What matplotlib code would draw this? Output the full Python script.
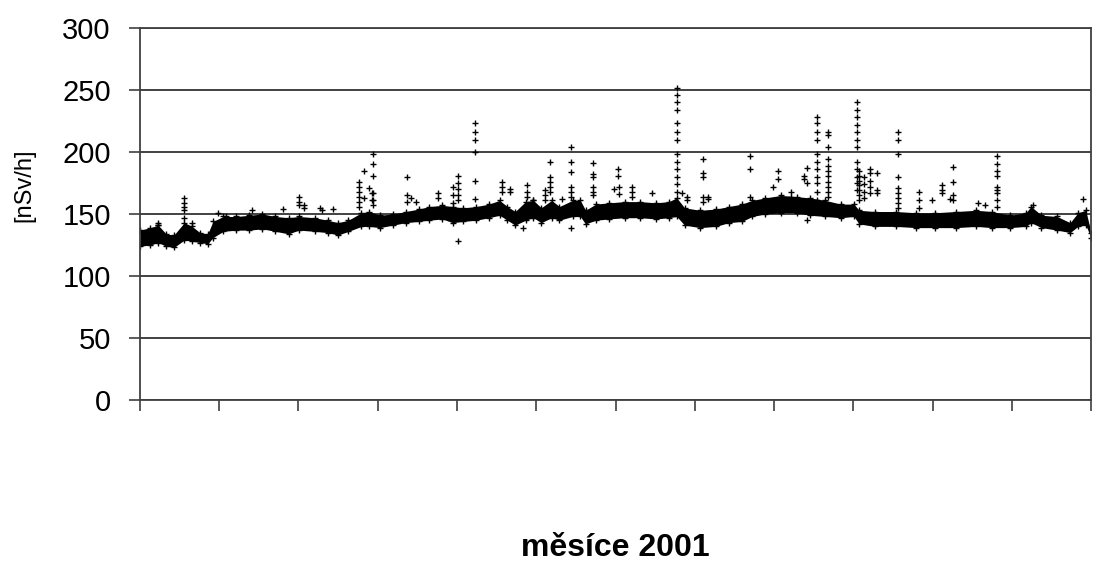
import matplotlib
matplotlib.use("Agg")
import matplotlib.pyplot as plt

plt.rcParams['font.family'] = ['Liberation Sans', 'DejaVu Sans']

# dense band of hourly values: day of year, lower and upper edge [nSv/h]
band_day = [0, 4, 7, 10, 13, 17, 20, 23, 26, 28, 32, 37, 42, 47, 52, 57, 61, 67,
            72, 76, 80, 85, 88, 92, 97, 102, 107, 111, 116, 120, 124, 129, 134,
            138, 141, 144, 148, 151, 154, 158, 161, 166, 169, 171, 175, 180, 186,
            192, 198, 203, 206, 209, 215, 221, 226, 231, 235, 240, 246, 252, 257,
            263, 269, 274, 276, 282, 290, 298, 305, 313, 321, 327, 334, 340, 342,
            346, 352, 357, 360, 363, 365]
band_low = [124, 125, 127, 124, 123, 129, 128, 127, 126, 131, 136, 137, 137, 138,
            136, 134, 137, 136, 135, 133, 136, 140, 140, 139, 141, 143, 144, 145,
            146, 143, 144, 145, 147, 149, 145, 141, 145, 147, 143, 147, 145, 148,
            148, 142, 145, 146, 147, 147, 146, 147, 148, 141, 139, 140, 143, 144,
            148, 150, 151, 151, 149, 148, 147, 148, 142, 140, 140, 139, 139, 139,
            140, 139, 139, 140, 143, 139, 137, 135, 140, 141, 131]
band_high = [137, 139, 141, 134, 133, 143, 140, 135, 134, 144, 148, 148, 149, 150,
             148, 147, 148, 147, 145, 143, 145, 151, 152, 149, 150, 152, 154, 156,
             157, 156, 155, 156, 158, 161, 156, 152, 160, 161, 155, 161, 156, 161,
             161, 153, 158, 159, 160, 160, 159, 160, 163, 155, 153, 154, 156, 158,
             161, 163, 165, 164, 163, 161, 158, 158, 153, 152, 152, 151, 151, 152,
             153, 152, 149, 151, 156, 149, 148, 143, 151, 153, 135]

# isolated readings outside the band
spike_day = ([7, 7] + [17] * 5 + [20, 30, 33, 43, 55] + [61] * 3 + [63] * 2
             + [69, 70, 74] + [84] * 6 + [86] * 2 + [88] + [89] * 2 + [89.5] * 6
             + [102.5] * 3 + [104, 106] + [114.5] * 2 + [120] * 3 + [122] * 6
             + [128.5] * 6 + [139] * 3 + [142] * 2 + [147] + [148.7] * 3 + [151]
             + [155.6] * 3 + [157.5] * 5 + [162] + [165.5] * 7 + [174] * 6
             + [182] + [183.6] * 2 + [184] * 2 + [189] * 3 + [196.7] + [206] * 13
             + [208] + [210] * 2 + [216] * 5 + [218] * 2 + [234] * 3 + [243]
             + [245] * 2 + [250] * 2 + [255] * 2 + [256] * 3 + [259.7] * 11
             + [264] * 11 + [275] * 12 + [276] * 7 + [278] * 4 + [280] * 5
             + [283] * 3 + [291] * 9 + [299] * 3 + [304] + [308] * 3 + [311]
             + [312] * 4 + [321.6, 324.5] + [329] * 9 + [342.7, 362])
spike_val = ([141, 143] + [163, 159, 156, 153, 147] + [143, 151, 148, 153, 154]
             + [164, 160, 157] + [157, 155] + [155, 153, 154]
             + [176, 172, 168, 164, 160, 156] + [185, 163] + [171] + [167, 161]
             + [198, 190, 181, 167, 161, 157] + [180, 165, 160] + [163, 160]
             + [167, 163] + [172, 165, 159] + [181, 175, 170, 165, 161, 128]
             + [223, 216, 210, 200, 177, 162] + [176, 172, 168] + [170, 168]
             + [139] + [173, 168, 164] + [161] + [169, 165, 161]
             + [192, 180, 176, 172, 168] + [162]
             + [204, 192, 184, 172, 168, 164, 139] + [191, 182, 180, 172, 168, 165]
             + [170] + [186, 181] + [172, 166] + [172, 168, 164] + [167]
             + [252, 246, 240, 234, 223, 216, 210, 198, 192, 186, 180, 174, 168]
             + [167] + [164, 161] + [194, 183, 180, 164, 160] + [164, 162]
             + [197, 186, 164] + [172] + [185, 178] + [168, 164] + [181, 178]
             + [187, 175, 145]
             + [228, 223, 216, 210, 198, 192, 186, 180, 175, 168, 161]
             + [216, 214, 204, 194, 189, 185, 181, 176, 172, 168, 164]
             + [240, 234, 228, 222, 216, 210, 204, 192, 186, 180, 175, 169]
             + [185, 181, 177, 173, 169, 165, 161] + [180, 174, 168, 163]
             + [186, 183, 177, 172, 167] + [183, 169, 167]
             + [216, 210, 198, 180, 171, 167, 163, 159, 155] + [168, 161, 155]
             + [161] + [173, 169, 167] + [162] + [188, 176, 165, 161] + [159, 157]
             + [197, 190, 185, 181, 172, 169, 167, 161, 156] + [157, 162])

month_ticks = [0, 30.4, 60.8, 91.25, 121.7, 152.1, 182.5, 212.9, 243.3, 273.75,
               304.2, 334.6, 365]

fig = plt.figure(figsize=(10.94, 5.63), dpi=100)
ax = fig.add_axes([140 / 1094, 1 - 400 / 563, 951 / 1094, 372 / 563])

ax.fill_between(band_day, band_low, band_high, color='black', linewidth=0)
ax.plot(band_day, band_low, linestyle='none', marker='+', color='black',
        markersize=4, markeredgewidth=1)
ax.plot(band_day, band_high, linestyle='none', marker='+', color='black',
        markersize=4, markeredgewidth=1)
ax.plot(spike_day, spike_val, linestyle='none', marker='+', color='black',
        markersize=4, markeredgewidth=1)

ax.set_xlim(0, 365)
ax.set_ylim(0, 300)
ax.set_yticks(range(0, 301, 50))
ax.set_xticks(month_ticks)
ax.set_xticklabels([])
ax.yaxis.grid(True, color='#333333', linewidth=1.3)
ax.set_axisbelow(True)
ax.tick_params(axis='y', direction='out', length=8, width=1.2, color='#404040',
               labelsize=21, pad=13)
ax.tick_params(axis='x', direction='out', length=8, width=1.2, color='#404040')
for side in ['left', 'bottom', 'right', 'top']:
    ax.spines[side].set_color('#404040')
    ax.spines[side].set_linewidth(1.3)

fig.text(24 / 1094, 1 - 185 / 563, '[nSv/h]', rotation=90, fontsize=17,
         ha='center', va='center')
fig.text(615 / 1094, 1 - 548 / 563, 'měsíce 2001', fontsize=23,
         fontweight='bold', ha='center', va='center')

fig.savefig('out.png', dpi=100)
